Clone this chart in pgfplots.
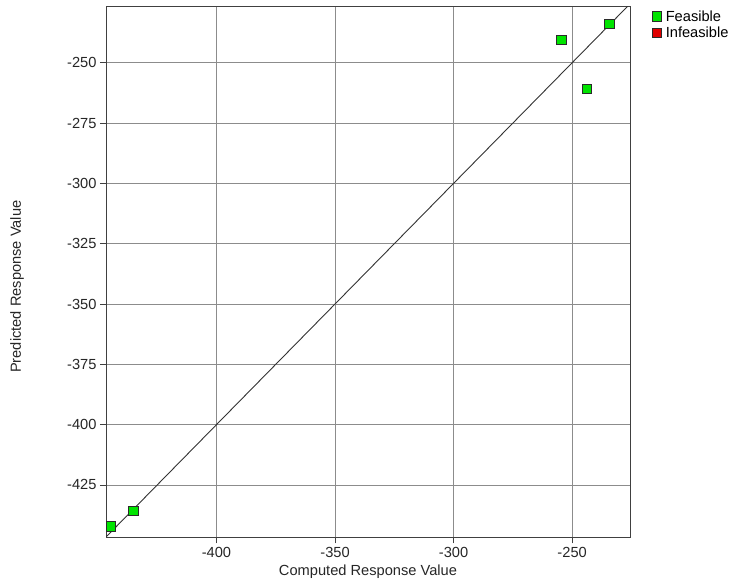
\documentclass[border=0pt]{standalone}
\usepackage{pgfplots}
\pgfplotsset{compat=1.18}
\usepackage{fontspec}
\setmainfont{Liberation Sans}

\definecolor{feasgreen}{HTML}{00E400}
\definecolor{infred}{HTML}{E00000}
\definecolor{markedge}{HTML}{2A2A2A}

\begin{document}
\begin{tikzpicture}
\useasboundingbox (0,0) rectangle (729bp,579bp);
\begin{axis}[
  at={(106bp,41.7bp)}, anchor=south west,
  width=524bp, height=531bp, scale only axis,
  xmin=-446.6, xmax=-225.6, ymin=-446.7, ymax=-226.6,
  xtick={-400,-350,-300,-250},
  ytick={-425,-400,-375,-350,-325,-300,-275,-250},
  tick pos=left,
  grid=major,
  major grid style={black!45, line width=0.8bp},
  axis line style={black!75, line width=0.9bp},
  tick align=outside, major tick length=6bp,
  tick style={black!75, line width=0.8bp},
  ticklabel style={font=\fontsize{14.7}{17}\selectfont, text=black!85},
  /pgf/number format/assume math mode=true,
  xlabel={Computed Response Value},
  ylabel={Predicted Response Value},
  xlabel style={yshift=-1bp, font=\fontsize{14.7}{17}\selectfont, text=black!85},
  every axis y label/.style={at={([xshift=-89bp]axis description cs:0,0.472)},
    anchor=center, rotate=90, font=\fontsize{14.7}{17}\selectfont, text=black!85},
  legend style={at={(1,1)}, anchor=north west, xshift=19bp, yshift=-1bp,
    draw=none, fill=none, font=\fontsize{14.7}{17}\selectfont,
    nodes={inner sep=1bp}, row sep=2.5bp},
  legend cell align=left,
  legend image code/.code={\draw[#1] plot coordinates {(0.12cm,0cm)};},
  /tikz/every odd column/.append style={column sep=3bp},
]
% reference line y = x
\addplot[black!80, line width=0.9bp, forget plot]
  coordinates {(-446.6,-446.6) (-225.6,-225.6)};

% feasible designs
\addplot[only marks, mark=square*, mark size=4.8bp,
  mark options={fill=feasgreen, draw=markedge, line width=0.9bp}]
  coordinates {
    (-444.5,-442.3)
    (-435.1,-435.8)
    (-254.5,-240.5)
    (-243.7,-260.8)
    (-234.2,-234.0)
  };
\addlegendentry{Feasible}

\addlegendimage{only marks, mark=square*, mark size=4.8bp,
  mark options={fill=infred, draw=markedge, line width=0.9bp}}
\addlegendentry{Infeasible}
\end{axis}
\end{tikzpicture}
\end{document}
